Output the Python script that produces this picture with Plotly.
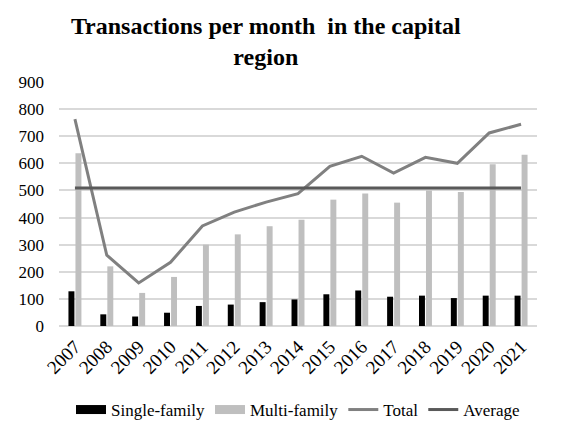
import plotly.graph_objects as go

years = ["2007", "2008", "2009", "2010", "2011", "2012", "2013", "2014",
         "2015", "2016", "2017", "2018", "2019", "2020", "2021"]
single_family = [128, 43, 35, 49, 74, 79, 88, 98, 117, 131, 108, 112, 103, 112, 112]
multi_family = [637, 220, 122, 181, 300, 338, 368, 392, 466, 489, 455, 500, 494, 597, 632]
total = [763, 261, 159, 235, 369, 420, 457, 488, 589, 626, 564, 622, 600, 712, 744]
average = [509] * len(years)

font_family = "Liberation Serif, Times New Roman, serif"
black = "#000000"
light_grey = "#bfbfbf"

fig = go.Figure()

# bars (legend drawn by the thick-line stand-ins below so the keys are wide)
fig.add_trace(go.Bar(
    x=years, y=single_family, name="Single-family", showlegend=False,
    marker=dict(color=black, line_width=0)
))
fig.add_trace(go.Bar(
    x=years, y=multi_family, name="Multi-family", showlegend=False,
    marker=dict(color=light_grey, line_width=0)
))
fig.add_trace(go.Scatter(
    x=[None], y=[None], name="Single-family", mode="lines",
    line=dict(color=black, width=9), hoverinfo="skip"
))
fig.add_trace(go.Scatter(
    x=[None], y=[None], name="Multi-family", mode="lines",
    line=dict(color=light_grey, width=9), hoverinfo="skip"
))
fig.add_trace(go.Scatter(
    x=years, y=total, name="Total", mode="lines",
    line=dict(color="#808080", width=3)
))
fig.add_trace(go.Scatter(
    x=years, y=average, name="Average", mode="lines",
    line=dict(color="#595959", width=3)
))

# page body adds an 8px margin, so the figure is 8px smaller than the window
fig.update_layout(
    width=558, height=417,
    margin=dict(l=51, r=29, t=74, b=99, autoexpand=False),
    paper_bgcolor="white",
    plot_bgcolor="white",
    font=dict(family=font_family, color=black, size=17),
    title=dict(
        text="<b>Transactions per month  in the capital<br>region</b>",
        x=0.462, xanchor="center", y=0.938, yanchor="middle",
        font=dict(family=font_family, size=24, color=black)
    ),
    barmode="group",
    bargap=0.56,
    bargroupgap=0.15,
    showlegend=True,
    legend=dict(
        orientation="h", x=0.5, xanchor="center",
        yref="container", y=0.036, yanchor="middle",
        font=dict(family=font_family, size=17),
        itemwidth=30, traceorder="normal"
    ),
    xaxis=dict(
        tickangle=-45, showgrid=False, zeroline=False, showline=False,
        ticks="", tickfont=dict(size=19), automargin=False,
        ticklabelstandoff=5
    ),
    yaxis=dict(
        range=[0, 900], dtick=100, showgrid=True, gridcolor="#d9d9d9",
        gridwidth=2, zeroline=True, zerolinecolor="#d9d9d9", zerolinewidth=2,
        showline=False, ticks="", tickfont=dict(size=17), automargin=False,
        ticklabelstandoff=14
    ),
)

fig.write_html("out.html")
